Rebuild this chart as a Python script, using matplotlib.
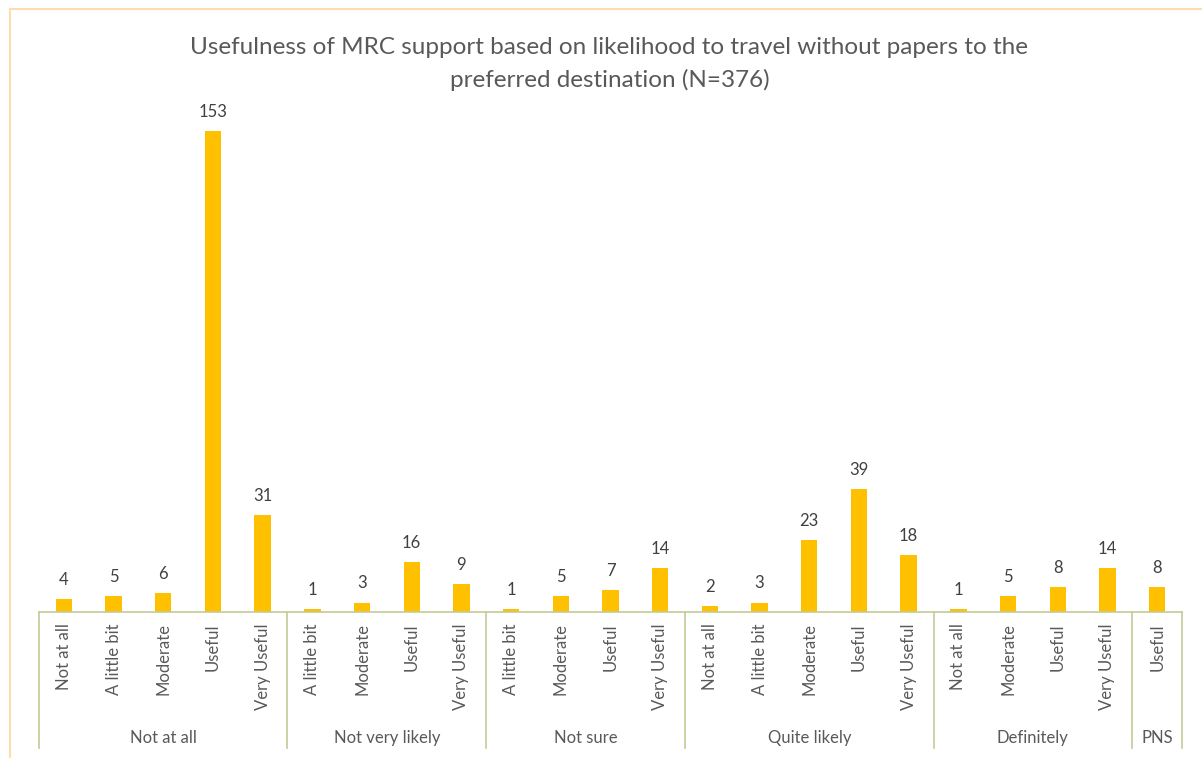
import numpy as np
import matplotlib.pyplot as plt
import matplotlib.transforms as mtransforms
from matplotlib.patches import Rectangle

# ---------------------------------------------------
# Datos
# ---------------------------------------------------
grupos = ["Not at all", "Not very likely", "Not sure", "Quite likely", "Definitely", "PNS"]
sub_etiquetas = [
    ["Not at all", "A little bit", "Moderate", "Useful", "Very Useful"],
    ["A little bit", "Moderate", "Useful", "Very Useful"],
    ["A little bit", "Moderate", "Useful", "Very Useful"],
    ["Not at all", "A little bit", "Moderate", "Useful", "Very Useful"],
    ["Not at all", "Moderate", "Useful", "Very Useful"],
    ["Useful"],
]
valores = [
    [4, 5, 6, 153, 31],
    [1, 3, 16, 9],
    [1, 5, 7, 14],
    [2, 3, 23, 39, 18],
    [1, 5, 8, 14],
    [8],
]

titulo = "Usefulness of MRC support based on likelihood to travel without papers to the\npreferred destination (N=376)"

# ---------------------------------------------------
# Preparar posiciones
# ---------------------------------------------------
etiquetas = [e for g in sub_etiquetas for e in g]
vals = [v for g in valores for v in g]
x = np.arange(len(vals))
tamanos = [len(g) for g in valores]
bordes = np.concatenate([[0], np.cumsum(tamanos)]) - 0.5

plt.rcParams['font.family'] = ['Lato', 'DejaVu Sans']
color_texto = '#595959'
color_eje = '#C3CB95'

W, H = 1202, 758
fig = plt.figure(figsize=(W / 100, H / 100), dpi=100)
ax = fig.add_axes([39 / W, 1 - 612 / H, (1182 - 39) / W, (612 - 100) / H])

ax.bar(x, vals, width=0.33, color='#FFC000')
for xi, v in zip(x, vals):
    ax.annotate(str(v), (xi, v), xytext=(0, 8), textcoords='offset points',
                ha='center', va='bottom', fontsize=12, color='#404040')

ax.set_xlim(-0.5, len(vals) - 0.5)
ax.set_ylim(0, 163)
ax.set_yticks([])
for s in ax.spines.values():
    s.set_visible(False)

ax.set_xticks(x)
ax.set_xticklabels(etiquetas, rotation=90, fontsize=12, color=color_texto)
ax.tick_params(axis='x', length=0, pad=8)

# Eje de categorías multinivel
trans = mtransforms.blended_transform_factory(ax.transData, ax.transAxes)
y_bajo = (612 - 748) / 512
ax.plot([bordes[0], bordes[-1]], [0, 0], transform=trans, color=color_eje, lw=1.2, clip_on=False)
for b in bordes:
    ax.plot([b, b], [0, y_bajo], transform=trans, color=color_eje, lw=1.2, clip_on=False)
for g, a, b in zip(grupos, bordes[:-1], bordes[1:]):
    ax.text((a + b) / 2, (612 - 738) / 512, g, transform=trans, ha='center', va='center',
            fontsize=12, color=color_texto)

fig.text(0.507, 1 - 64 / H, titulo, ha='center', va='center', fontsize=17.5,
         color=color_texto, linespacing=1.55)

# Marco del gráfico
fig.patches.append(Rectangle((10 / W, -0.05), 1.1, 1 - 9 / H + 0.05, transform=fig.transFigure,
                             fill=False, edgecolor='#FDDDB0', lw=1.5))

plt.savefig("out.png", facecolor='white')
plt.close()
